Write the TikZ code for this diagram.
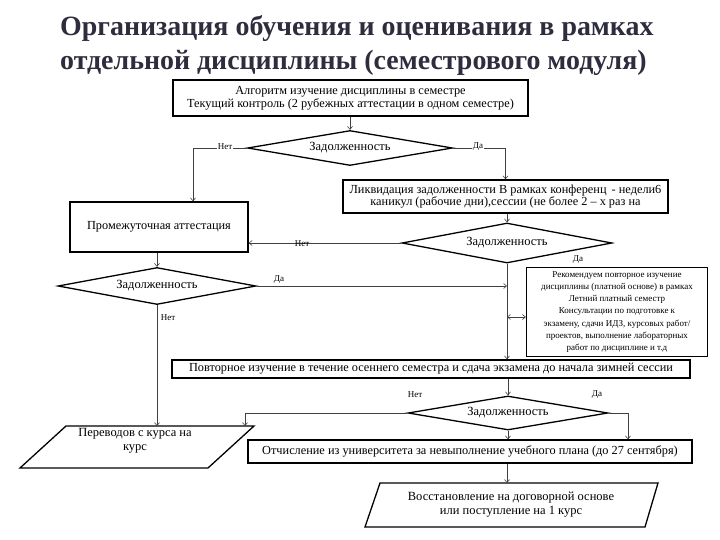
\documentclass[tikz,border=0pt]{standalone}
\usepackage{fontspec}
\setmainfont{Liberation Serif}
\usetikzlibrary{shapes.geometric,arrows.meta,calc}
\definecolor{titlecol}{RGB}{45,45,62}
\begin{document}
\begin{tikzpicture}[x=1pt,y=-1pt,
  box/.style={draw=black,line width=1.3pt,fill=white,inner sep=0pt,align=center,font=\fontsize{12.3}{12.8}\selectfont},
  dia/.style={diamond,aspect=6,draw=black,line width=1.3pt,fill=white,inner sep=0pt,font=\fontsize{12.5}{13}\selectfont},
  par/.style={draw=black,line width=1.3pt,fill=white},
  ptext/.style={align=center,inner sep=0pt,font=\fontsize{12.5}{14}\selectfont},
  conn/.style={line width=0.6pt,draw=black!75},
  arr/.style={conn,-{Straight Barb[length=3pt,width=5pt]}},
  darr/.style={conn,{Straight Barb[length=3pt,width=5pt]}-{Straight Barb[length=3pt,width=5pt]}},
  lbl/.style={font=\fontsize{9}{10}\selectfont,inner sep=1pt},
  ]
\fill[white] (0,0) rectangle (720,540);
\useasboundingbox (0,0) rectangle (720,540);

\node[anchor=north west,align=left,font=\bfseries\fontsize{27.9}{34}\selectfont,text=titlecol,inner sep=0pt] (title) at (60,15) {Организация обучения и оценивания в рамках\\отдельной дисциплины (семестрового модуля)};

% boxes and decisions
\node[box,minimum width=355pt,minimum height=36pt] (b1) at (350.5,98) {Алгоритм изучение дисциплины в семестре\\Текущий контроль (2 рубежных аттестации в одном семестре)};
\node[dia,minimum width=205pt,minimum height=35pt] (d1) at (350,148) {Задолженность};
\node[box,minimum width=325pt,minimum height=33pt] (lk) at (505.5,196.5) {Ликвидация задолженности В рамках конференц\, - недели6\\каникул (рабочие дни),сессии (не более 2 -- х раз на};
\node[box,minimum width=178pt,minimum height=50pt] (p1) at (159,227) {Промежуточная аттестация};
\node[dia,minimum width=210pt,minimum height=40pt] (d2) at (507,243) {Задолженность};
\node[dia,minimum width=198pt,minimum height=37pt] (d3) at (157,286) {Задолженность};
\node[box,minimum width=181pt,minimum height=89pt,font=\fontsize{9}{12.2}\selectfont] (rk) at (617,312) {Рекомендуем повторное изучение\\дисциплины (платной основе) в рамках\\Летний платный семестр\\Консультации по подготовке к\\экзамену, сдачи ИДЗ, курсовых работ/\\проектов, выполнение лабораторных\\работ по дисциплине и т.д};
\node[box,minimum width=518pt,minimum height=18pt] (po) at (431,369) {Повторное изучение в течение осеннего семестра и сдача экзамена до начала зимней сессии};
\node[dia,minimum width=200pt,minimum height=34pt] (d4) at (508,413) {Задолженность};
\node[box,minimum width=444pt,minimum height=23pt] (ot) at (470,451.5) {Отчисление из университета за невыполнение учебного плана (до 27 сентября)};

% parallelograms
\draw[par] (20,468) -- (66,426) -- (254,426) -- (208,468) -- cycle;
\node[ptext] (pv) at (135,441) {Переводов с курса на\\курс};
\draw[par] (365,527) -- (380,483) -- (658,483) -- (645,527) -- cycle;
\node[ptext] (vo) at (511,505) {Восстановление на договорной основе\\или поступление на 1 курс};
\coordinate (pvtop) at (137,426);
\coordinate (pvtopb) at (245,426);
\coordinate (votop) at (507,483);

% connectors
\draw[arr] (b1.south -| d1.north) -- (d1.north);
\draw[arr] (d1.west) -| ([xshift=34pt]p1.north);
\draw[arr] (d1.east) -| (lk.north);
\draw[arr] (lk.south -| d2.north) -- (d2.north);
\draw[arr] (d2.west) -- (d2.west -| p1.east);
\draw[arr] (d2.south) -- (d2.south |- po.north);
\draw[arr] (p1.south -| d3.north) -- (d3.north);
\draw[arr] (d3.east) -- (d3.east -| d2.south);
\draw[darr] ([yshift=-5pt]rk.west -| d2.south) -- ([yshift=-5pt]rk.west);
\draw[arr] (po.south -| d4.north) -- (d4.north);
\draw[arr] (d3.south) -- (d3.south |- pvtop);
\draw[arr] (d4.west) -| (pvtopb);
\draw[arr] (d4.east) -| ([xshift=158pt]ot.north);
\draw[arr] (d4.south) -- (d4.south |- ot.north);
\draw[arr] (ot.south -| votop) -- (votop);

% labels
\node[lbl,fill=white] (n1) at (225,147) {Нет};
\node[lbl,fill=white] (y1) at (478,147) {Да};
\node[lbl] (n2) at (302,244) {Нет};
\node[lbl] (y2) at (578,260) {Да};
\node[lbl] (y3) at (279,280) {Да};
\node[lbl] (n3) at (168,318) {Нет};
\node[lbl] (n4) at (415,395) {Нет};
\node[lbl] (y4) at (597,395) {Да};
\end{tikzpicture}
\end{document}
